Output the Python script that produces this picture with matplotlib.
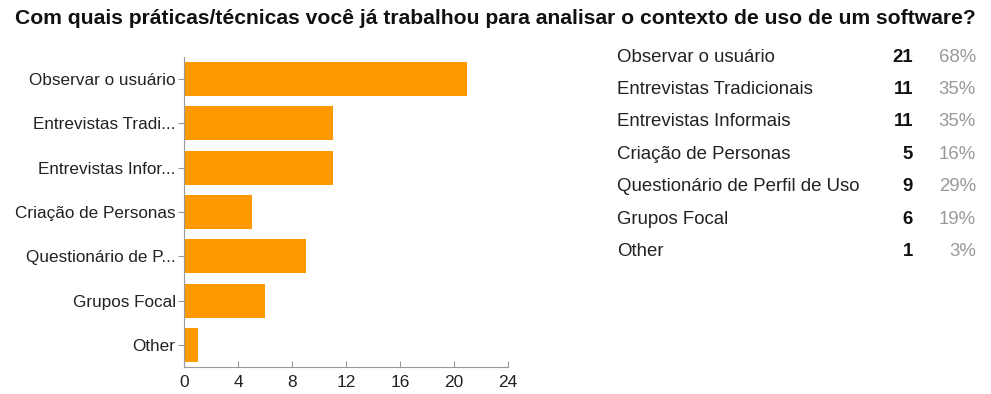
import numpy as np
import matplotlib.pyplot as plt

plt.rcParams['font.family'] = ['Liberation Sans', 'DejaVu Sans']

# respostas da pergunta
opcoes = ['Observar o usuário', 'Entrevistas Tradicionais', 'Entrevistas Informais',
          'Criação de Personas', 'Questionário de Perfil de Uso', 'Grupos Focal', 'Other']
rotulos_eixo = ['Observar o usuário', 'Entrevistas Tradi...', 'Entrevistas Infor...',
                'Criação de Personas', 'Questionário de P...', 'Grupos Focal', 'Other']
contagens = [21, 11, 11, 5, 9, 6, 1]
percentuais = ['68%', '35%', '35%', '16%', '29%', '19%', '3%']
ticks_x = [0, 4, 8, 12, 16, 20, 24]

fig = plt.figure(figsize=(9.91, 3.94), dpi=100)
fig.text(0.5, 0.953, 'Com quais práticas/técnicas você já trabalhou para analisar o contexto de uso de um software?',
         ha='center', va='center', fontsize=15.2, fontweight='bold', color='#111111')

ax = fig.add_axes([0.1857, 0.0685, 0.3269, 0.7868])
index = np.arange(len(contagens))
ax.barh(index, contagens, height=0.77, color='#ff9900')
ax.set_ylim(len(contagens) - 0.5, -0.5)
ax.set_xlim(0, 24)
ax.set_yticks(index)
ax.set_yticklabels(rotulos_eixo, fontsize=12.3, color='#222222')
ax.set_xticks(ticks_x)
ax.set_xticklabels([str(t) for t in ticks_x], fontsize=12.5, color='#222222')
for s in ['top', 'right']:
    ax.spines[s].set_visible(False)
for s in ['left', 'bottom']:
    ax.spines[s].set_color('#999999')
ax.tick_params(axis='y', length=4, color='#999999', pad=2)
ax.tick_params(axis='x', length=4, direction='in', color='#999999', pad=6)

# tabela ao lado
y0 = 1 - 57 / 394
passo = 32.4 / 394
for i, (nome, n, p) in enumerate(zip(opcoes, contagens, percentuais)):
    y = y0 - i * passo
    fig.text(617 / 991, y, nome, ha='left', va='center', fontsize=13.4, color='#222222')
    fig.text(913 / 991, y, str(n), ha='right', va='center', fontsize=13.4, fontweight='bold', color='#111111')
    fig.text(976 / 991, y, p, ha='right', va='center', fontsize=13.4, color='#999999')

fig.savefig('out.png', dpi=100)
